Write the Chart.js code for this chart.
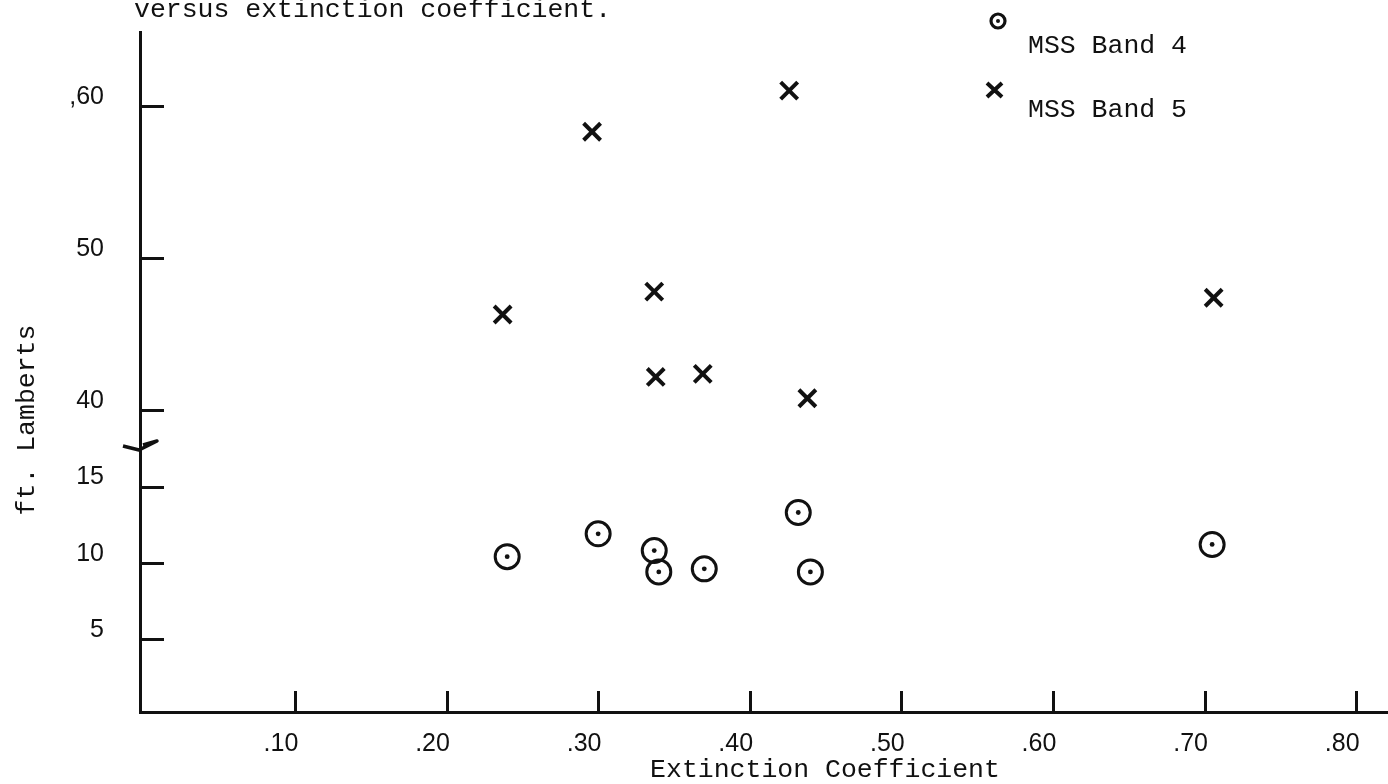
<!DOCTYPE html>
<html>
<head>
<meta charset="utf-8">
<script src="https://cdn.jsdelivr.net/npm/chart.js@4.4.1/dist/chart.umd.min.js"></script>
<style>
  html, body { margin: 0; padding: 0; background: #ffffff; }
  canvas { display: block; }
</style>
</head>
<body>
<canvas id="chart" width="1388" height="784"></canvas>
<script>
// Brightness (ft. Lamberts) against extinction coefficient, two MSS bands
const extinctionBand4 = [0.24, 0.30, 0.337, 0.34, 0.37, 0.432, 0.44, 0.705];
const lambertsBand4   = [10.4, 11.9, 10.8, 9.4, 9.6, 13.3, 9.4, 11.2];
const extinctionBand5 = [0.237, 0.296, 0.337, 0.338, 0.369, 0.426, 0.438, 0.706];
const lambertsBand5   = [46.3, 58.3, 47.8, 42.2, 42.4, 61.0, 40.8, 47.4];
const seriesNames = ['MSS Band 4', 'MSS Band 5'];

const xTickValues = [0.10, 0.20, 0.30, 0.40, 0.50, 0.60, 0.70, 0.80];
const xTickLabels = ['.10', '.20', '.30', '.40', '.50', '.60', '.70', '.80'];
const yTickValues = [5, 10, 15, 40, 50, 60];
const yTickLabels = ['5', '10', '15', '40', '50', ',60'];

const titleText = 'versus extinction coefficient.';
const xTitleText = 'Extinction Coefficient';
const yTitleText = 'ft. Lamberts';

// The y axis is broken: the stretch between about 17.5 and 37.5 is cut out,
// so everything above the break is shifted down by 20 units.
const BREAK_SHIFT = 20;
const BREAK_AT = 27.5;
function toAxis(v) { return v > BREAK_AT ? v - BREAK_SHIFT : v; }

const INK = '#111111';
const monoFont = '26.5px "Liberation Mono", "DejaVu Sans Mono", monospace';

function points(xs, ys) {
  return xs.map((x, i) => ({ x: x, y: toAxis(ys[i]) }));
}

const decorations = {
  id: 'decorations',
  afterDraw(chart) {
    const ctx = chart.ctx;
    const xs = chart.scales.x;
    const ys = chart.scales.y;
    const area = chart.chartArea;
    ctx.save();
    ctx.strokeStyle = INK;
    ctx.fillStyle = INK;
    ctx.lineCap = 'butt';

    // inward tick marks on the y axis
    ctx.lineWidth = 3;
    ys.ticks.forEach(t => {
      const py = Math.round(ys.getPixelForValue(t.value)) + 0.5;
      ctx.beginPath();
      ctx.moveTo(area.left, py);
      ctx.lineTo(area.left + 24, py);
      ctx.stroke();
    });
    // inward tick marks on the x axis
    xs.ticks.forEach(t => {
      const px = Math.round(xs.getPixelForValue(t.value)) + 0.5;
      ctx.beginPath();
      ctx.moveTo(px, area.bottom);
      ctx.lineTo(px, area.bottom - 21);
      ctx.stroke();
    });

    // break symbol on the y axis
    const by = ys.getPixelForValue(17.6);
    ctx.lineWidth = 3.5;
    ctx.lineJoin = 'round';
    ctx.beginPath();
    ctx.moveTo(area.left - 17, by - 1);
    ctx.lineTo(area.left - 1, by + 3);
    ctx.lineTo(area.left + 17, by - 6);
    ctx.lineTo(area.left + 3, by - 2);
    ctx.stroke();

    // titles
    ctx.font = monoFont;
    ctx.textBaseline = 'alphabetic';
    ctx.textAlign = 'left';
    ctx.fillText(titleText, 134, 17);
    ctx.textAlign = 'center';
    ctx.fillText(xTitleText, 825, 777);
    ctx.save();
    ctx.translate(34, 420);
    ctx.rotate(-Math.PI / 2);
    ctx.textAlign = 'center';
    ctx.fillText(yTitleText, 0, 0);
    ctx.restore();

    // legend
    ctx.textAlign = 'left';
    ctx.fillText(seriesNames[0], 1028, 53);
    ctx.fillText(seriesNames[1], 1028, 117);
    ctx.lineWidth = 3.2;
    ctx.beginPath();
    ctx.arc(998, 21, 7, 0, Math.PI * 2);
    ctx.stroke();
    ctx.beginPath();
    ctx.arc(998, 21, 2, 0, Math.PI * 2);
    ctx.fill();
    ctx.lineWidth = 4;
    ctx.beginPath();
    ctx.moveTo(987, 83); ctx.lineTo(1002, 97);
    ctx.moveTo(1002, 83); ctx.lineTo(987, 97);
    ctx.stroke();

    ctx.restore();
  }
};

new Chart(document.getElementById('chart'), {
  type: 'scatter',
  data: {
    datasets: [
      {
        label: seriesNames[0],
        data: points(extinctionBand4, lambertsBand4),
        pointStyle: 'circle',
        pointRadius: 12,
        borderWidth: 3,
        borderColor: INK,
        backgroundColor: 'rgba(0,0,0,0)'
      },
      {
        label: seriesNames[0] + ' centre',
        data: points(extinctionBand4, lambertsBand4),
        pointStyle: 'circle',
        pointRadius: 2.4,
        borderWidth: 0,
        backgroundColor: INK
      },
      {
        label: seriesNames[1],
        data: points(extinctionBand5, lambertsBand5),
        pointStyle: 'crossRot',
        pointRadius: 12,
        borderWidth: 4,
        borderColor: INK
      }
    ]
  },
  options: {
    responsive: false,
    animation: false,
    events: [],
    layout: { autoPadding: false, padding: { top: 32, left: 0, right: 0, bottom: 0 } },
    plugins: {
      legend: { display: false },
      title: { display: false },
      tooltip: { enabled: false }
    },
    scales: {
      x: {
        type: 'linear',
        bounds: 'data',
        min: -0.0022,
        max: 0.821,
        grid: { display: false, drawTicks: false },
        border: { display: true, color: INK, width: 3 },
        afterFit(scale) {
          scale.height = 72;
          scale.paddingLeft = 0;
          scale.paddingRight = 0;
        },
        afterBuildTicks(scale) {
          scale.ticks = xTickValues.map(v => ({ value: v }));
        },
        ticks: {
          autoSkip: false,
          maxRotation: 0,
          padding: 17,
          labelOffset: -14,
          color: INK,
          font: { family: '"Liberation Sans", Arial, sans-serif', size: 25 },
          callback: (value, index) => xTickLabels[index]
        }
      },
      y: {
        type: 'linear',
        bounds: 'data',
        min: 0.2,
        max: 44.85,
        grid: { display: false, drawTicks: false },
        border: { display: true, color: INK, width: 3 },
        afterFit(scale) {
          scale.width = 140;
          scale.paddingTop = 0;
          scale.paddingBottom = 0;
        },
        afterBuildTicks(scale) {
          scale.ticks = yTickValues.map(v => ({ value: toAxis(v) }));
        },
        ticks: {
          autoSkip: false,
          padding: 36,
          labelOffset: -9,
          color: INK,
          font: { family: '"Liberation Sans", Arial, sans-serif', size: 25 },
          callback: (value, index) => yTickLabels[index]
        }
      }
    }
  },
  plugins: [decorations]
});
</script>
</body>
</html>
